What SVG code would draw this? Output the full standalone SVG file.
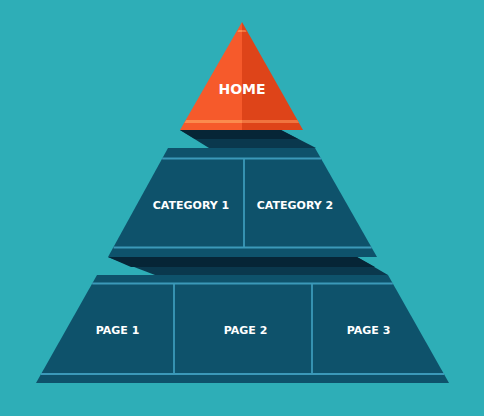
<svg xmlns="http://www.w3.org/2000/svg" width="484" height="416" viewBox="0 0 484 416">
<style>
.tier{fill:#0E526B}
.ln{stroke:#3B99B9;stroke-width:1.8;fill:none}
.sh1{fill:#062536}
.sh2{fill:#0A384D}
.lbl{font-family:"DejaVu Sans",sans-serif;font-weight:bold;fill:#FFFFFF;text-anchor:middle}
</style>
<rect width="484" height="416" fill="#2EAEB7"/>
<g id="shadows">
<polygon class="sh2" points="180,130 281,130 316,148 209,148"/>
<polygon class="sh1" points="180,130 281,130 298,139 195,139"/>
<polygon class="sh2" points="108,257 357,257 388,275 155,275"/>
<polygon class="sh1" points="108,257 357,257 375,267 131,267"/>
</g>
<g id="home">
<polygon points="242,22 242,130 180,130" fill="#F65A2B"/>
<polygon points="242,22 303,130 242,130" fill="#DE4419"/>
<polygon points="238.6,30 242,30 242,32 237.4,32" fill="#FB8B4E"/>
<polygon points="242,30 245.4,30 246.6,32 242,32" fill="#F0743F"/>
<polygon points="186.2,120 242,120 242,123 184.4,123" fill="#FB8B4E"/>
<polygon points="242,120 297.4,120 299.1,123 242,123" fill="#F0743F"/>
<text class="lbl" x="242" y="94" font-size="14">HOME</text>
</g>
<g id="categories">
<polygon class="tier" points="168,148 315,148 377,257 108,257"/>
<line class="ln" x1="162.2" y1="158.5" x2="321" y2="158.5"/>
<line class="ln" x1="113.6" y1="247.5" x2="371.6" y2="247.5"/>
<line class="ln" x1="244" y1="158.5" x2="244" y2="247.5"/>
<text class="lbl" x="191" y="209" font-size="11">CATEGORY 1</text>
<text class="lbl" x="295" y="209" font-size="11">CATEGORY 2</text>
</g>
<g id="pages">
<polygon class="tier" points="97,275 388,275 449,383 36,383"/>
<line class="ln" x1="92.2" y1="283.5" x2="392.8" y2="283.5"/>
<line class="ln" x1="41" y1="374" x2="444" y2="374"/>
<line class="ln" x1="174" y1="283.5" x2="174" y2="374"/>
<line class="ln" x1="312" y1="283.5" x2="312" y2="374"/>
<text class="lbl" x="117.5" y="334" font-size="11">PAGE 1</text>
<text class="lbl" x="245.5" y="334" font-size="11">PAGE 2</text>
<text class="lbl" x="368.5" y="334" font-size="11">PAGE 3</text>
</g>
</svg>
